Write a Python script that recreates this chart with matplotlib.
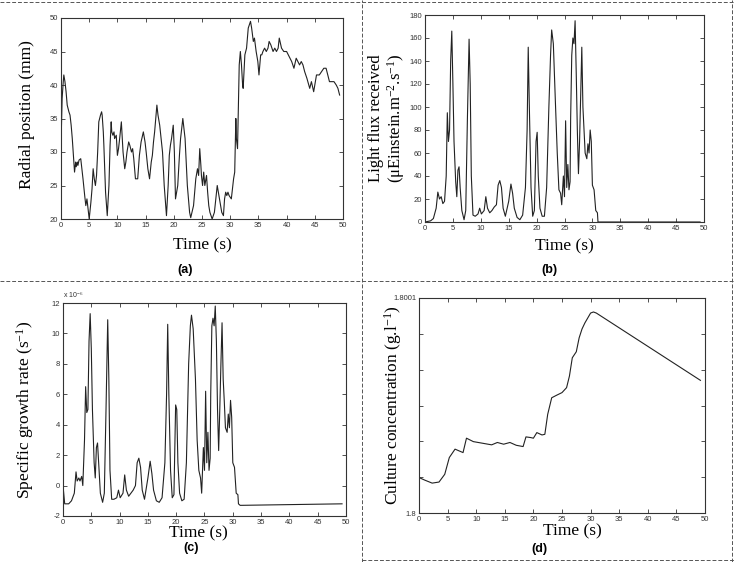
import matplotlib
matplotlib.use("Agg")
import matplotlib.pyplot as plt
from matplotlib.lines import Line2D

plt.rcParams['axes.unicode_minus'] = False
plt.rcParams['mathtext.fontset'] = 'custom'
plt.rcParams['mathtext.rm'] = 'Liberation Serif'
plt.rcParams['mathtext.it'] = 'Liberation Serif:italic'
plt.rcParams['mathtext.bf'] = 'Liberation Serif:bold'

# ---------------- data ----------------
# (a) radial position (mm)
t_a = ([0.0, 0.2, 0.4, 0.5, 0.7, 0.9, 1.1, 1.4, 1.6, 1.8, 2.0, 2.2, 2.4, 2.6, 2.7, 2.9, 3.0, 3.2, 3.5,
        3.7, 3.9, 4.2, 4.4, 4.6, 4.8, 5.0]
       + [5.3, 5.5, 5.7, 5.9, 6.1, 6.3, 6.5, 6.7, 7.0, 7.2, 7.3, 7.5, 7.6, 7.9, 8.2, 8.5, 8.7, 8.9,
          9.0, 9.2, 9.4, 9.5, 9.8, 10.0, 10.2, 10.4, 10.7]
       + [11.0, 11.3, 11.5, 11.7, 12.0, 12.2, 12.5, 12.7, 12.9, 13.2, 13.6, 13.9, 14.2, 14.6, 14.9,
          15.1, 15.4, 15.7, 16.0, 16.2, 16.4, 16.6, 17.0, 17.2, 17.5]
       + [18.0, 18.3, 18.7, 19.0, 19.2, 19.4, 19.6, 19.9, 20.1, 20.3, 20.5, 20.7, 21.0, 21.2, 21.6,
          22.0, 22.4, 22.8, 23.0]
       + [23.5, 23.9, 24.2, 24.4, 24.6, 24.8, 24.9, 25.1, 25.3, 25.5, 25.8, 26.0, 26.2, 26.4, 26.8,
          27.2, 27.7, 28.1, 28.5, 28.8, 29.0, 29.2, 29.4, 29.6, 29.8, 30.2]
       + [30.6, 30.8, 31.0, 31.1, 31.3, 31.6, 31.8, 32.0, 32.2, 32.3, 32.6, 32.9, 33.2, 33.6, 33.8,
          34.1, 34.3, 34.6, 34.9, 35.1]
       + [35.4, 35.6, 35.8, 36.1, 36.4, 36.7, 36.9, 37.2, 37.6, 37.9, 38.2, 38.5, 38.7, 39.1, 39.5,
          40.0, 40.3, 40.6, 40.9, 41.3, 41.7, 42.0, 42.3, 42.6, 42.9, 43.2, 43.6, 44.1, 44.4, 44.8,
          45.0, 45.3, 45.8, 46.2, 46.6, 47.0, 47.3, 47.6, 48.0, 48.4, 48.8, 49.1, 49.4])
r_a = ([31.0, 38.0, 40.5, 41.5, 40.5, 39.0, 37.0, 36.0, 35.5, 34.0, 32.0, 29.5, 27.0, 28.5, 27.8, 28.5,
        28.0, 28.8, 29.0, 27.5, 26.0, 23.5, 22.0, 23.0, 21.5, 20.0]
       + [22.5, 24.5, 27.5, 26.0, 25.0, 26.5, 30.0, 34.5, 35.5, 36.0, 35.5, 33.0, 31.0, 24.0, 20.5,
          25.0, 31.0, 34.5, 33.0, 32.5, 33.0, 32.0, 32.5, 29.5, 30.5, 32.0, 34.5]
       + [30.0, 27.5, 28.5, 30.0, 31.5, 31.0, 30.0, 30.5, 29.0, 26.0, 26.0, 29.5, 31.5, 33.0, 31.5,
          30.0, 27.5, 26.0, 28.5, 29.5, 31.5, 33.0, 37.0, 35.5, 34.0]
       + [30.0, 25.0, 20.5, 25.0, 29.5, 31.0, 32.0, 34.0, 30.0, 23.0, 24.0, 25.0, 29.5, 32.0, 35.0,
          32.0, 25.0, 21.0, 20.2]
       + [22.0, 26.0, 27.5, 26.5, 30.5, 28.0, 26.5, 25.0, 27.0, 25.0, 26.5, 24.0, 22.0, 21.0, 20.0,
          21.0, 25.0, 23.0, 21.0, 20.5, 23.0, 24.0, 23.5, 24.0, 23.5, 23.0]
       + [26.0, 27.0, 35.0, 32.0, 30.5, 43.0, 45.0, 43.0, 40.0, 39.5, 44.5, 45.5, 48.5, 49.5, 48.5,
          46.5, 47.0, 45.0, 43.5, 41.5]
       + [44.5, 44.5, 45.0, 45.5, 45.0, 45.5, 46.5, 46.0, 45.0, 45.5, 45.0, 45.5, 47.0, 45.5, 45.0,
          45.0, 44.5, 44.0, 43.5, 42.5, 44.0, 43.5, 43.0, 43.5, 43.0, 42.0, 41.0, 39.5, 40.5, 39.0,
          40.0, 41.5, 41.5, 42.0, 42.5, 42.5, 41.5, 40.5, 40.5, 40.5, 40.0, 39.5, 38.5])

# (b) light flux received (uEinstein.m-2.s-1)
t_b = [0.0, 1.0, 1.5, 2.0, 2.3, 2.6, 2.9, 3.2, 3.5, 3.8, 4.0, 4.2, 4.4, 4.6, 4.8, 5.0, 5.2, 5.5, 5.7,
       5.9, 6.1, 6.3, 6.6, 7.0, 7.3, 7.6, 7.9, 8.1, 8.3, 8.6, 9.0, 9.5, 9.8, 10.1, 10.6, 10.9, 11.2,
       11.6, 12.0, 12.4, 12.8, 13.1, 13.4, 13.7, 14.0, 14.4, 15.0, 15.4, 15.7, 16.0, 16.5, 17.0, 17.5,
       18.0, 18.3, 18.5, 18.7, 19.0, 19.3, 19.6, 19.9, 20.1, 20.3, 20.6, 21.0, 21.4, 21.8, 22.2, 22.5,
       22.7, 23.0, 23.4, 23.7, 24.0, 24.3, 24.5, 24.8, 25.0, 25.2, 25.4, 25.6, 25.8, 26.0, 26.1, 26.3,
       26.5, 26.7, 26.9, 27.1, 27.3, 27.5, 27.7, 27.9, 28.1, 28.3, 28.5, 28.7, 29.0, 29.2, 29.4, 29.6,
       29.8, 30.0, 30.3, 30.6, 30.9, 31.0, 31.3, 49.3]
f_b = [0, 1, 3, 12, 26, 20, 22, 16, 18, 40, 95, 70, 80, 140, 166, 120, 70, 35, 22, 45, 48, 30, 10, 2,
       10, 90, 159, 120, 40, 6, 5, 7, 12, 7, 10, 22, 12, 8, 10, 13, 15, 32, 36, 30, 12, 5, 18, 33, 25,
       12, 4, 2, 6, 30, 80, 152, 100, 30, 5, 10, 70, 78, 40, 12, 5, 5, 30, 100, 145, 167, 155, 100, 60,
       28, 25, 15, 40, 22, 88, 30, 50, 28, 35, 90, 145, 160, 155, 175, 130, 80, 42, 70, 110, 152, 100,
       80, 60, 55, 68, 60, 80, 70, 32, 28, 10, 8, 0, 0, 0]

# (c) specific growth rate (x 1e-6 s-1)
t_c = [0.0, 0.3, 1.0, 1.5, 2.0, 2.3, 2.5, 2.8, 3.0, 3.3, 3.5, 3.8, 4.0, 4.2, 4.4, 4.6, 4.8, 5.0, 5.2,
       5.5, 5.7, 5.9, 6.1, 6.3, 6.6, 7.0, 7.3, 7.6, 7.9, 8.1, 8.3, 8.6, 9.0, 9.5, 9.8, 10.1, 10.6, 10.9,
       11.2, 11.6, 12.0, 12.4, 12.8, 13.1, 13.4, 13.7, 14.0, 14.4, 15.0, 15.4, 15.7, 16.0, 16.5, 17.0,
       17.5, 18.0, 18.3, 18.5, 18.7, 19.0, 19.3, 19.6, 19.9, 20.1, 20.3, 20.6, 21.0, 21.4, 21.8, 22.2,
       22.5, 22.7, 23.0, 23.4, 23.7, 24.0, 24.3, 24.5, 24.8, 25.0, 25.2, 25.4, 25.6, 25.8, 26.0, 26.1,
       26.3, 26.5, 26.7, 26.9, 27.1, 27.3, 27.5, 27.7, 27.9, 28.1, 28.3, 28.5, 28.7, 29.0, 29.2, 29.4,
       29.6, 29.8, 30.0, 30.3, 30.6, 30.9, 31.0, 31.3, 49.3]
g_c = [0.0, -1.2, -1.2, -1.0, -0.5, 0.9, 0.3, 0.5, 0.3, 0.6, 0.0, 3.0, 6.5, 4.8, 5.0, 9.5, 11.3, 9.0,
       5.0, 1.5, 0.5, 2.5, 2.8, 1.5, -0.5, -1.1, -0.5, 5.0, 10.9, 7.0, 1.0, -0.9, -0.9, -0.8, -0.3,
       -0.8, -0.5, 0.7, -0.3, -0.7, -0.5, -0.3, 0.0, 1.5, 1.8, 1.2, -0.3, -0.9, 0.5, 1.6, 0.8, -0.3,
       -1.0, -1.1, -0.8, 1.5, 6.0, 10.6, 6.0, 1.0, -0.8, -0.6, 5.3, 5.0, 1.5, -0.5, -1.0, -0.9, 1.5,
       8.0, 10.5, 11.2, 10.3, 7.0, 3.0, 1.0, 0.5, -0.5, 2.5, 1.0, 6.2, 1.5, 3.5, 1.0, 1.8, 6.0, 10.5,
       11.0, 10.5, 11.8, 9.5, 5.0, 2.3, 5.0, 8.0, 10.7, 7.0, 5.5, 3.8, 3.5, 4.7, 3.8, 5.6, 4.5, 1.5,
       1.2, -0.5, -0.6, -1.2, -1.3, -1.2]

# (d) culture concentration, offset above 1.8 g/l in units of 1e-6
t_d = [0.0, 1.0, 2.3, 3.5, 4.5, 5.3, 6.3, 7.0, 7.7, 8.3, 9.5, 11.0, 12.7, 13.7, 14.8, 15.9, 17.0,
       18.2, 18.7, 19.5, 20.0, 20.6, 21.5, 22.0, 22.5, 23.2, 24.0, 25.0, 25.8, 26.3, 26.8, 27.5, 28.0,
       28.5, 29.0, 29.5, 30.0, 30.5, 31.0, 49.2]
c_d = [16.5, 15.3, 13.9, 14.4, 18.0, 25.8, 29.7, 28.9, 28.1, 34.8, 33.2, 32.5, 31.7, 32.8, 32.0, 32.8,
       31.5, 30.9, 35.4, 35.1, 34.8, 37.4, 36.3, 36.6, 45.9, 53.6, 54.7, 56.0, 58.3, 63.7, 72.2, 75.0,
       81.5, 85.6, 88.4, 90.7, 93.0, 93.5, 93.0, 61.7]

xticks = [0, 5, 10, 15, 20, 25, 30, 35, 40, 45, 50]

# ---------------- figure ----------------
W, H = 735, 562
fig = plt.figure(figsize=(W / 100, H / 100), dpi=100)

serif = ['Liberation Serif', 'DejaVu Serif']
sans = ['Liberation Sans', 'DejaVu Sans']
line_kw = dict(color='#222222', lw=0.8)
LBL = 12.5


def make_ax(l, r, t, b):
    ax = fig.add_axes([l / W, 1 - b / H, (r - l) / W, (b - t) / H])
    ax.tick_params(direction='in', which='both', top=True, right=True, length=3,
                   width=0.6, labelsize=5.5, pad=2, colors='#333333')
    for s in ax.spines.values():
        s.set_linewidth(0.8)
        s.set_color('#333333')
    ax.set_xlim(0, 50)
    ax.set_xticks(xticks)
    return ax


def style_ticks(ax):
    for lab in ax.get_xticklabels() + ax.get_yticklabels():
        lab.set_fontfamily(sans)


# (a)
ax = make_ax(61, 343, 18, 219)
ax.plot(t_a, r_a, **line_kw)
ax.set_ylim(20, 50)
ax.set_yticks([20, 25, 30, 35, 40, 45, 50])
style_ticks(ax)
fig.text(27 / W, 1 - 115 / H, 'Radial position (mm)', rotation=90, ha='center', va='center',
         family=serif, fontsize=LBL)
fig.text(202 / W, 1 - 245 / H, 'Time (s)', ha='center', va='center', family=serif, fontsize=LBL)
fig.text(185 / W, 1 - 270 / H, '(a)', ha='center', va='center', family=sans, fontsize=9,
         fontweight='bold')

# (b)
ax = make_ax(425, 704, 15, 222)
ax.plot(t_b, f_b, **line_kw)
ax.set_ylim(0, 180)
ax.set_yticks(list(range(0, 181, 20)))
style_ticks(ax)
fig.text(376 / W, 1 - 118 / H, 'Light flux received', rotation=90, ha='center', va='center',
         family=serif, fontsize=12)
fig.text(396 / W, 1 - 118 / H, r'($\mathrm{\mu}$Einstein.m$^{-2}$.s$^{-1}$)',
         rotation=90, ha='center', va='center', family=serif, fontsize=12)
fig.text(564 / W, 1 - 246 / H, 'Time (s)', ha='center', va='center', family=serif, fontsize=LBL)
fig.text(549 / W, 1 - 270 / H, '(b)', ha='center', va='center', family=sans, fontsize=9,
         fontweight='bold')

# (c)
ax = make_ax(63, 346, 303, 516)
ax.plot(t_c, g_c, **line_kw)
ax.set_ylim(-2, 12)
ax.set_yticks(list(range(-2, 13, 2)))
style_ticks(ax)
ax.text(0.0, 1.015, 'x 10$^{-6}$', transform=ax.transAxes, ha='left',
        va='bottom', family=sans, fontsize=5, color='#333333')
fig.text(25 / W, 1 - 410 / H, r'Specific growth rate (s$^{-1}$)', rotation=90,
         ha='center', va='center', family=serif, fontsize=LBL)
fig.text(198 / W, 1 - 533 / H, 'Time (s)', ha='center', va='center', family=serif, fontsize=LBL)
fig.text(191 / W, 1 - 548 / H, '(c)', ha='center', va='center', family=sans, fontsize=9,
         fontweight='bold')

# (d)
ax = make_ax(419, 705, 298, 513)
ax.plot(t_d, [1.8 + v * 1e-6 for v in c_d], **line_kw)
ax.set_ylim(1.8, 1.8001)
ax.set_yticks([1.8 + k * 1e-4 / 6 for k in range(7)])
ax.set_yticklabels(['1.8', '', '', '', '', '', '1.8001'])
style_ticks(ax)
fig.text(393 / W, 1 - 405 / H, r'Culture concentration (g.l$^{-1}$)', rotation=90,
         ha='center', va='center', family=serif, fontsize=LBL)
fig.text(572 / W, 1 - 531 / H, 'Time (s)', ha='center', va='center', family=serif, fontsize=LBL)
fig.text(539 / W, 1 - 549 / H, '(d)', ha='center', va='center', family=sans, fontsize=9,
         fontweight='bold')

# panel dividers
div_kw = dict(color='#555555', lw=0.7, ls=(0, (4, 2)), transform=fig.transFigure)
fig.add_artist(Line2D([362 / W, 362 / W], [0, 1], **div_kw))
fig.add_artist(Line2D([0, 1], [1 - 281 / H, 1 - 281 / H], **div_kw))
fig.add_artist(Line2D([0, 1], [1 - 2 / H, 1 - 2 / H], **div_kw))
fig.add_artist(Line2D([732 / W, 732 / W], [0, 1], **div_kw))
fig.add_artist(Line2D([362 / W, 1], [1 - 560 / H, 1 - 560 / H], **div_kw))

fig.savefig('out.png', dpi=100)
